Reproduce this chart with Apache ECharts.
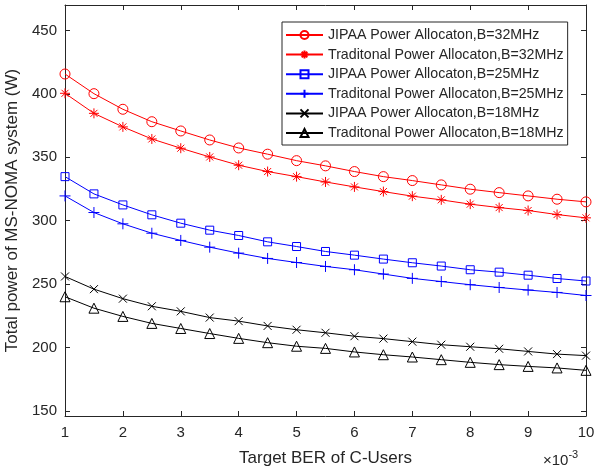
<!DOCTYPE html>
<html>
<head>
<meta charset="utf-8">
<script src="https://cdn.jsdelivr.net/npm/echarts@6/dist/echarts.min.js"></script>
<style>html,body{margin:0;padding:0;background:#fff}#c{width:596px;height:470px}</style>
</head>
<body>
<div id="c"></div>
<script>
// Target BER (x 10^-3)
const berValues = [1, 1.5, 2, 2.5, 3, 3.5, 4, 4.5, 5, 5.5, 6, 6.5, 7, 7.5, 8, 8.5, 9, 9.5, 10];
const jipaa32 = [415.6, 400.1, 387.8, 378.0, 370.7, 363.6, 357.3, 352.4, 347.3, 343.2, 338.7, 334.7, 331.6, 328.2, 324.8, 322.1, 319.5, 316.9, 314.8];
const trad32  = [400.4, 384.6, 373.9, 364.4, 357.1, 350.2, 343.7, 338.7, 334.7, 330.5, 326.6, 322.9, 319.3, 316.4, 313.0, 310.3, 308.0, 304.8, 302.2];
const jipaa25 = [334.7, 321.1, 312.4, 304.6, 298.0, 292.5, 288.3, 283.3, 279.6, 275.7, 272.8, 269.7, 266.8, 264.2, 261.3, 259.4, 257.0, 254.4, 252.4];
const trad25  = [319.5, 306.4, 297.5, 290.1, 284.4, 279.1, 274.4, 270.2, 267.0, 263.9, 261.3, 257.9, 254.5, 252.0, 249.5, 247.3, 245.3, 243.4, 241.0];
const jipaa18 = [256.0, 246.0, 238.5, 232.5, 228.5, 223.6, 220.8, 217.0, 214.0, 211.6, 208.9, 207.0, 204.6, 202.2, 200.6, 199.0, 196.9, 194.8, 193.6];
const trad18  = [240.0, 231.0, 224.5, 219.0, 215.0, 211.0, 207.2, 203.8, 201.0, 199.3, 196.5, 194.3, 192.5, 190.4, 188.3, 186.5, 185.1, 183.9, 182.0];
const seriesNames = [
  'JIPAA Power Allocaton,B=32MHz',
  'Traditonal Power Allocaton,B=32MHz',
  'JIPAA Power Allocaton,B=25MHz',
  'Traditonal Power Allocaton,B=25MHz',
  'JIPAA Power Allocaton,B=18MHz',
  'Traditonal Power Allocaton,B=18MHz'
];
const yTickValues = [150, 200, 250, 300, 350, 400, 450];

const STAR = 'path://M5,0L5,10M0,5L10,5M1.5,1.5L8.5,8.5M8.5,1.5L1.5,8.5';
const PLUS = 'path://M5,0L5,10M0,5L10,5';
const CROSS = 'path://M0,0L10,10M10,0L0,10';

const allSeries = [jipaa32, trad32, jipaa25, trad25, jipaa18, trad18];
const colors = ['#ff0000', '#ff0000', '#0000ff', '#0000ff', '#000000', '#000000'];
const symbols = ['circle', STAR, 'rect', PLUS, CROSS, 'triangle'];
const sizes = [10, 10, 8, 11, 8, 10];

const font = "'Liberation Sans', Arial, Helvetica, sans-serif";
const txt = '#262626';

const series = allSeries.map((vals, i) => ({
  name: seriesNames[i],
  type: 'line',
  data: berValues.map((x, j) => [x, vals[j]]),
  symbol: symbols[i],
  symbolSize: sizes[i],
  showAllSymbol: true,
  lineStyle: { color: colors[i], width: 1 },
  itemStyle: { color: 'rgba(255,255,255,0)', borderColor: colors[i], borderWidth: 1 },
  emphasis: { disabled: true },
  animation: false,
  z: 3
}));

const chart = echarts.init(document.getElementById('c'), null, { renderer: 'canvas' });
chart.setOption({
  backgroundColor: '#ffffff',
  animation: false,
  grid: { left: 65, right: 10, top: 5, bottom: 54, containLabel: false, outerBoundsMode: 'none' },
  legend: {
    orient: 'vertical',
    left: 282, top: 22,
    padding: [6, 4, 5, 3],
    itemWidth: 37, itemHeight: 10, itemGap: 5.6,
    backgroundColor: '#ffffff',
    borderColor: '#262626', borderWidth: 1, borderRadius: 0,
    textStyle: { fontFamily: font, fontSize: 14.2, color: txt },
    data: seriesNames
  },
  xAxis: [{
    type: 'value', min: 1, max: 10, interval: 1,
    name: 'Target BER of C-Users', nameLocation: 'middle', nameGap: 34,
    nameTextStyle: { fontFamily: font, fontSize: 17, color: txt },
    axisLine: { lineStyle: { color: txt, width: 1 } },
    axisTick: { inside: true, length: 5, lineStyle: { color: txt } },
    axisLabel: { fontFamily: font, fontSize: 15, color: txt, margin: 9 },
    splitLine: { show: false }
  }, {
    type: 'value', min: 1, max: 10, interval: 1, position: 'top',
    axisLine: { lineStyle: { color: txt, width: 1 } },
    axisTick: { inside: true, length: 5, lineStyle: { color: txt } },
    axisLabel: { show: false },
    splitLine: { show: false }
  }],
  yAxis: [{
    type: 'value', min: 146, max: 470,
    name: 'Total power of MS-NOMA system (W)', nameLocation: 'middle', nameGap: 40, nameRotate: 90,
    nameTextStyle: { fontFamily: font, fontSize: 17, color: txt },
    axisLine: { show: true, lineStyle: { color: txt, width: 1 } },
    axisTick: { show: true, inside: true, length: 5, lineStyle: { color: txt }, customValues: yTickValues },
    axisLabel: { fontFamily: font, fontSize: 15, color: txt, margin: 8, customValues: yTickValues },
    splitLine: { show: false }
  }, {
    type: 'value', min: 146, max: 470, position: 'right',
    axisLine: { show: true, lineStyle: { color: txt, width: 1 } },
    axisTick: { show: true, inside: true, length: 5, lineStyle: { color: txt }, customValues: yTickValues },
    axisLabel: { show: false },
    splitLine: { show: false }
  }],
  graphic: [{
    type: 'text', left: 543, top: 449,
    style: {
      text: '{a|×10}{b|-3}',
      rich: {
        a: { fontFamily: font, fontSize: 15, fill: txt, padding: [6, 0, 0, 0] },
        b: { fontFamily: font, fontSize: 11, fill: txt, padding: [0, 0, 6, 0] }
      }
    }
  }],
  series: series
});
</script>
</body>
</html>
